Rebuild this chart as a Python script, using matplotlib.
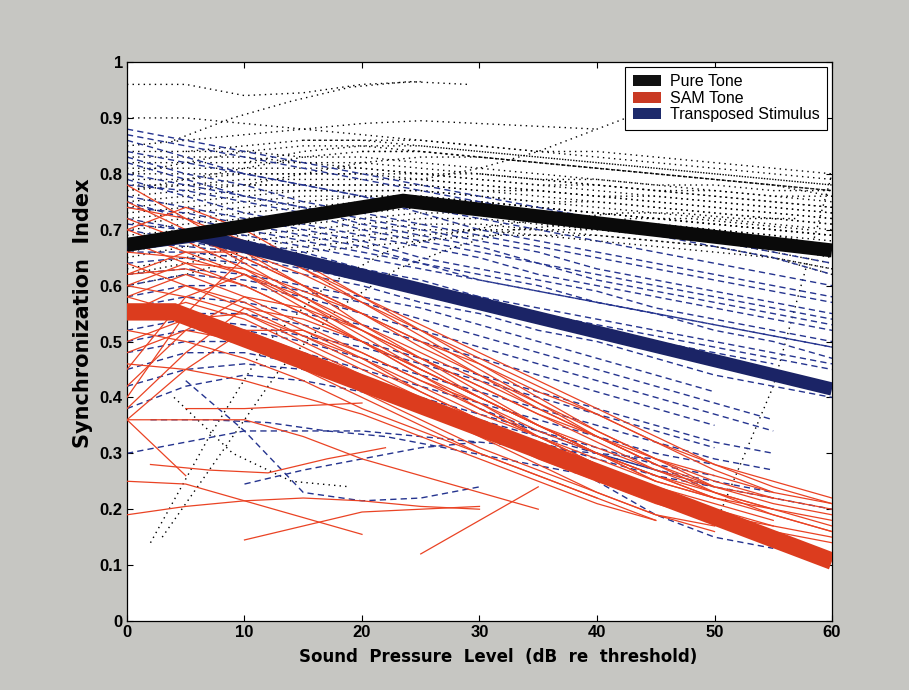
import numpy as np
import matplotlib
matplotlib.use("Agg")
import matplotlib.pyplot as plt
from matplotlib.patches import Patch

# levels on each unit's curve are spaced 5 dB apart, starting at *_start
level_step = 5

# pure tone units (dotted black)
pure_start = [0, 0, 4, 0, 25, 0, 0, 0, 0, 0, 0, 0, 0, 0, 0, 0, 0, 0, 0, 0,
              0, 0, 0, 0, 0, 0, 0, 10, 15, 30, 2, 3, 4, 50,
              5, 0, 0, 10, 20]
pure_si = [
    [.96, .96, .94, .945, .96, .965],
    [.90, .90, .89, .88, .87, .86, .85, .84, .83, .82, .81, .80, .79],
    [.86, .90, .93, .955, .965, .96],
    [.85, .86, .87, .88, .89, .895, .89, .885, .88],
    [.79, .81, .84, .88, .92, .94, .935],
    [.84, .84, .84, .83, .83, .82, .81, .80, .79, .78, .77, .76, .75],
    [.83, .83, .83, .82, .82, .81, .80, .79, .78, .77, .76, .75, .74],
    [.82, .82, .82, .82, .81, .80, .80, .79, .78, .77, .77, .76, .76],
    [.81, .81, .81, .81, .81, .80, .79, .78, .77, .76, .75, .74, .73],
    [.80, .80, .80, .80, .80, .80, .79, .78, .78, .77, .76, .75, .74],
    [.79, .79, .80, .80, .80, .79, .78, .77, .76, .75, .74, .73, .72],
    [.78, .78, .79, .79, .79, .79, .78, .77, .76, .76, .75, .74, .73],
    [.77, .78, .78, .78, .78, .78, .77, .76, .75, .74, .73, .72, .71],
    [.76, .77, .78, .78, .78, .78, .77, .77, .76, .75, .74, .73, .72],
    [.75, .76, .77, .77, .77, .77, .76, .75, .74, .73, .72, .71, .70],
    [.74, .75, .76, .77, .77, .77, .76, .75, .75, .74, .73, .72, .71],
    [.73, .74, .75, .76, .76, .76, .75, .74, .73, .72, .71, .70, .69],
    [.72, .73, .74, .75, .76, .76, .75, .74, .73, .72, .71, .70, .69],
    [.71, .72, .73, .74, .75, .75, .74, .73, .72, .71, .70, .69, .68],
    [.70, .71, .72, .73, .74, .75, .75, .74, .73, .72, .71, .70, .69],
    [.69, .70, .71, .72, .73, .74, .74, .73, .72, .71, .70, .69, .67],
    [.68, .69, .70, .71, .72, .73, .73, .72, .71, .70, .69, .68, .66],
    [.66, .68, .69, .70, .71, .72, .72, .71, .70, .69, .68, .67, .65],
    [.65, .67, .68, .69, .70, .71, .71, .70, .70, .69, .68, .66, .64],
    [.63, .65, .67, .68, .69, .70, .70, .69, .68, .67, .66, .65, .63],
    [.62, .64, .66, .67, .68, .69, .70, .70, .69, .68, .67, .65, .62],
    [.60, .62, .65, .66, .67, .68, .69, .69, .69, .68, .67, .65, .63],
    [.82, .84, .85, .85, .84, .83, .82, .81, .80, .79, .78],
    [.86, .86, .86, .85, .84, .84, .83, .82, .81, .80],
    [.80, .79, .79, .78, .78, .77, .77],
    [.14, .33, .50, .60, .66, .69, .71, .72, .73, .73, .72, .72],
    [.15, .30, .45, .56, .63, .67, .70, .71, .72, .72, .71, .70],
    [.40, .30, .25, .24],
    [.17, .42, .80],
    [.84, .85, .86, .86, .85, .84, .83, .82, .81, .80, .79, .78],
    [.80, .82, .84, .85, .85, .84, .83, .82, .81, .80, .79, .78, .77],
    [.77, .79, .81, .83, .84, .84, .83, .82, .81, .80, .79, .78, .76],
    [.78, .80, .82, .83, .83, .82, .81, .80, .79, .78, .77],
    [.84, .84, .83, .82, .81, .80, .79, .78, .77],
]

# transposed stimulus units (dashed blue)
trans_start = [0] * 30 + [2, 5, 10, 35, 30]
trans_si = [
    [.88, .86, .84, .82, .80, .78, .76, .74, .72, .70, .68, .66, .64],
    [.87, .85, .83, .81, .79, .77, .75, .73, .71, .69, .67, .65, .62],
    [.86, .83, .80, .78, .76, .74, .72, .70, .68, .66, .64, .62, .60],
    [.84, .82, .80, .78, .76, .73, .70, .68, .66, .64, .62, .60, .58],
    [.83, .80, .78, .75, .73, .71, .69, .67, .65, .63, .61, .59, .57],
    [.82, .79, .76, .74, .72, .70, .68, .66, .63, .61, .59, .57, .55],
    [.80, .78, .76, .74, .71, .69, .67, .64, .62, .60, .58, .56, .54],
    [.79, .76, .73, .71, .69, .67, .65, .62, .60, .58, .56, .54, .52],
    [.78, .77, .75, .73, .70, .68, .66, .64, .61, .59, .57, .55, .53],
    [.76, .74, .72, .70, .68, .65, .63, .61, .59, .56, .54, .52, .50],
    [.75, .72, .70, .68, .66, .64, .61, .59, .57, .55, .53, .51, .49],
    [.74, .73, .71, .69, .67, .64, .62, .60, .57, .55, .52, .50, .47],
    [.72, .70, .68, .66, .63, .61, .58, .56, .54, .52, .50, .48, .46],
    [.71, .70, .69, .67, .65, .63, .61, .59, .57, .55, .53, .51, .49],
    [.70, .68, .66, .64, .62, .60, .58, .55, .53, .51, .49, .47, .45],
    [.68, .67, .66, .64, .62, .60, .57, .55, .52, .50, .48, .46],
    [.66, .66, .65, .63, .61, .59, .57, .54, .52, .49, .46],
    [.64, .65, .64, .62, .60, .57, .55, .52, .50, .47, .44, .42, .40],
    [.62, .63, .62, .60, .58, .56, .53, .50, .47, .44, .41],
    [.60, .62, .61, .59, .57, .54, .51, .48, .45, .42, .39, .36],
    [.58, .60, .60, .58, .55, .52, .49, .46, .43, .40, .37, .34],
    [.56, .58, .57, .55, .53, .50, .47, .44, .41, .38, .35],
    [.54, .55, .55, .53, .50, .47, .44, .41, .38, .35, .32, .30],
    [.52, .54, .53, .51, .49, .46, .43, .40, .37, .34, .31],
    [.50, .52, .52, .50, .47, .44, .41, .38, .35, .32, .29, .27],
    [.48, .50, .50, .48, .45, .42, .39, .36, .33, .30, .28],
    [.45, .48, .48, .46, .43, .40, .37, .34, .31, .28, .26],
    [.42, .45, .46, .45, .42, .39, .36, .33, .30, .27, .25, .23],
    [.38, .42, .44, .43, .41, .38, .35, .32, .29, .26, .24],
    [.30, .32, .34, .34, .34, .33, .32, .31, .30, .29],
    [.36, .36, .355, .34, .33, .31, .29, .27, .25],
    [.43, .34, .23, .215, .22, .24],
    [.245, .27, .29, .31, .32],
    [.30, .25, .19, .15, .13],
    [.38, .34, .30, .27, .24, .22, .20],
]

# SAM tone units (solid red)
sam_start = [0] * 29 + [0, 0, 10, 2, 0, 0, 5, 25]
sam_si = [
    [.78, .72, .66, .60, .53, .47, .41, .35, .30, .26, .22],
    [.75, .70, .64, .58, .52, .46, .40, .35, .30, .25],
    [.72, .68, .63, .57, .51, .45, .40, .35, .31, .27, .24, .22, .20],
    [.70, .66, .62, .56, .50, .44, .38, .33, .28, .24, .20, .17],
    [.68, .64, .60, .55, .50, .44, .39, .33, .28, .23, .19, .16, .14],
    [.66, .65, .62, .57, .52, .47, .42, .37, .33, .29, .26, .23, .21],
    [.64, .60, .56, .51, .46, .41, .36, .32, .27, .23, .19],
    [.62, .63, .60, .55, .50, .45, .40, .35, .30, .25, .22, .19, .16],
    [.60, .58, .55, .50, .45, .40, .35, .30, .26, .22, .18],
    [.58, .62, .58, .53, .48, .43, .38, .33, .28, .24, .21, .18],
    [.56, .55, .52, .48, .43, .38, .33, .28, .23, .19, .17],
    [.55, .60, .57, .52, .47, .41, .36, .31, .26, .22, .19, .17, .15],
    [.52, .50, .47, .43, .38, .34, .30, .26, .22, .18],
    [.50, .54, .55, .51, .47, .42, .37, .33, .29, .25, .22, .20, .18],
    [.48, .52, .50, .46, .41, .36, .31, .27, .23, .19, .16],
    [.46, .45, .43, .40, .37, .33, .29, .25, .21, .18],
    [.45, .58, .62, .58, .53, .48, .43, .38, .33, .28, .24, .21, .19],
    [.42, .52, .58, .56, .52, .47, .42, .37, .32, .27, .23, .20],
    [.40, .55, .65, .60, .55, .50, .44, .39, .34, .29, .25, .22],
    [.38, .48, .56, .54, .50, .45, .40, .35, .30, .26, .22],
    [.36, .45, .52, .52, .48, .43, .39, .34, .30, .26, .23, .20, .17],
    [.70, .74, .70, .64, .58, .52, .46, .40, .34, .29, .24],
    [.74, .72, .68, .63, .57, .51, .45, .39, .33, .28],
    [.66, .70, .68, .63, .58, .53, .48, .43, .38, .33, .28, .24, .21],
    [.62, .66, .66, .62, .57, .52, .47, .42, .37, .32, .27, .23],
    [.58, .55, .50, .45, .40, .35, .30, .26, .22],
    [.54, .57, .54, .49, .44, .39, .34, .29, .25, .21, .18],
    [.60, .64, .63, .59, .55, .50, .46, .41, .37, .32, .28, .25, .22],
    [.68, .69, .65, .60, .55, .49, .44, .38, .33, .28, .23, .19, .16],
    [.25, .245, .215, .185, .155],
    [.19, .205, .215, .22, .215, .205, .20],
    [.145, .17, .195, .20, .205],
    [.28, .27, .265, .29, .31],
    [.36, .36, .36, .33, .29, .26, .23, .20],
    [.36, .26],
    [.38, .38, .385, .39],
    [.12, .18, .24],
]

# population trends
pure_mean_level = [0, 23.5, 60]
pure_mean_si = [0.673, 0.752, 0.663]
trans_mean_level = [0, 6, 60]
trans_mean_si = [0.673, 0.690, 0.415]
sam_mean_level = [0, 4, 60]
sam_mean_si = [0.553, 0.553, 0.107]

x_ticks = [0, 10, 20, 30, 40, 50, 60]
y_ticks = [0, 0.1, 0.2, 0.3, 0.4, 0.5, 0.6, 0.7, 0.8, 0.9, 1.0]
y_tick_labels = ['0', '0.1', '0.2', '0.3', '0.4', '0.5', '0.6', '0.7', '0.8', '0.9', '1']
legend_labels = ['Pure Tone', 'SAM Tone', 'Transposed Stimulus']


def draw_units(ax, starts, curves, **kw):
    for x0, si in zip(starts, curves):
        levels = x0 + level_step * np.arange(len(si))
        ax.plot(levels, si, **kw)


fig = plt.figure(figsize=(9.09, 6.9), dpi=100, facecolor='#c6c6c2')
ax = fig.add_axes([0.1397, 0.1, 0.7756, 0.8101])
ax.set_facecolor('white')

draw_units(ax, pure_start, pure_si, color='black', lw=1.0,
           linestyle=(0, (1, 3)), zorder=1)
draw_units(ax, trans_start, trans_si, color='#25348f', lw=1.0,
           linestyle=(0, (4.5, 3)), zorder=2)
draw_units(ax, sam_start, sam_si, color='#ea4324', lw=0.9, zorder=3)

ax.plot(trans_mean_level, trans_mean_si, color='#1b2466', lw=9.5,
        solid_capstyle='butt', solid_joinstyle='miter', zorder=4)
ax.plot(sam_mean_level, sam_mean_si, color='#dc3c1e', lw=12.5,
        solid_capstyle='butt', solid_joinstyle='miter', zorder=5)
ax.plot(pure_mean_level, pure_mean_si, color='#0a0a0a', lw=10,
        solid_capstyle='butt', solid_joinstyle='miter', zorder=6)

ax.set_xlim(0, 60)
ax.set_ylim(0, 1)
ax.set_xticks(x_ticks)
ax.set_yticks(y_ticks)
ax.set_yticklabels(y_tick_labels)
ax.tick_params(direction='in', length=4, width=0.8, top=True, right=True,
               labelsize=12, pad=3)
for lab in ax.get_xticklabels() + ax.get_yticklabels():
    lab.set_family('Liberation Sans')
    lab.set_fontweight('bold')
for sp in ax.spines.values():
    sp.set_linewidth(0.9)

ax.set_xlabel('Sound  Pressure  Level  (dB  re  threshold)', family='DejaVu Sans',
              fontweight='bold', fontsize=12, va='center')
ax.xaxis.set_label_coords(0.526, -0.0644)
ax.set_ylabel('Synchronization  Index', family='DejaVu Sans',
              fontweight='bold', fontsize=15, va='center', ha='center')
ax.yaxis.set_label_coords(-0.062, 0.55)

handles = [Patch(facecolor='#111111', edgecolor='none'),
           Patch(facecolor='#c93a24', edgecolor='none'),
           Patch(facecolor='#1d2a6b', edgecolor='none')]
leg = ax.legend(handles, legend_labels, loc='upper right',
                bbox_to_anchor=(0.993, 0.991), borderaxespad=0,
                prop={'family': 'Liberation Sans', 'size': 11.5},
                handlelength=1.75, handleheight=0.7, handletextpad=0.6,
                labelspacing=0.1, borderpad=0.45, fancybox=False,
                framealpha=1, edgecolor='black')
leg.get_frame().set_linewidth(0.8)
leg.set_zorder(10)

fig.savefig('out.png', dpi=100, facecolor=fig.get_facecolor())
